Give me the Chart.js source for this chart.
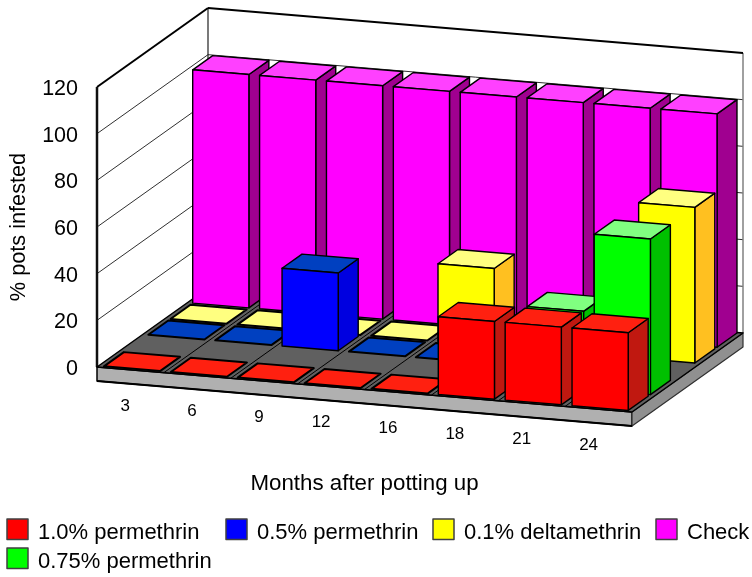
<!DOCTYPE html>
<html>
<head>
<meta charset="utf-8">
<title>Pots infested</title>
<script src="https://cdn.jsdelivr.net/npm/chart.js@4/dist/chart.umd.min.js"></script>
<style>
  html, body { margin: 0; padding: 0; background: #fff; }
  canvas { display: block; }
</style>
</head>
<body>
<canvas id="chart" width="752" height="577"></canvas>
<script>
// Data, front row first. null = no bar at all (bare floor)
const months = ['3', '6', '9', '12', '16', '18', '21', '24'];
const permethrin10 = [0, 0, 0, 0, 0, 33.3, 33.3, 33.3];
const permethrin075 = [null, null, null, null, null, null, 33.3, 66.7];
const permethrin05 = [0, 0, 33.3, 0, 0, 0, 0, null];
const deltamethrin01 = [0, 0, 0, 0, 33.3, 0, 0, 66.7];
const check = [100, 100, 100, 100, 100, 100, 100, 100];
const yTicksMax = 120;

const FONT = '"Liberation Sans", Arial, sans-serif';

// Oblique projection of the 3D box
const DEPTH_X = 111;   // px the floor runs right going front to back
const DEPTH_Y = 79;    // px it runs up
const SHEAR_Y = 45;    // px the front edge drops from left to right
const BAR_GAP = 0.08;
const BAR_WIDTH = 0.84;
const ROW_GAP = 0.07;
const ROW_DEPTH = 0.9;

const series = [
  { label: '1.0% permethrin', data: permethrin10, front: '#ff0000', top: '#ff2010', side: '#c01810' },
  { label: '0.75% permethrin', data: permethrin075, front: '#00ff00', top: '#80ff80', side: '#00c000' },
  { label: '0.5% permethrin', data: permethrin05, front: '#0000ff', top: '#0040c0', side: '#0000e0' },
  { label: '0.1% deltamethrin', data: deltamethrin01, front: '#ffff00', top: '#ffff80', side: '#ffc020' },
  { label: 'Check', data: check, front: '#ff00ff', top: '#ff40ff', side: '#a00090' }
];

// Legend reads in a different order than the rows
const legendSlots = [
  { row: 0, x: 7, y: 519 },
  { row: 2, x: 226, y: 519 },
  { row: 3, x: 433, y: 519 },
  { row: 4, x: 656, y: 519 },
  { row: 1, x: 7, y: 548 }
];

function project(chart, u, v, z) {
  const xs = chart.scales.x;
  const ys = chart.scales.y;
  const rows = series.length;
  return [
    xs.left + (u / months.length) * xs.width + (v / rows) * DEPTH_X,
    ys.getPixelForValue(z) + (u / months.length) * SHEAR_Y - (v / rows) * DEPTH_Y
  ];
}

function polygon(ctx, points, fill, stroke, lineWidth) {
  ctx.beginPath();
  points.forEach((p, i) => (i ? ctx.lineTo(p[0], p[1]) : ctx.moveTo(p[0], p[1])));
  ctx.closePath();
  if (fill) {
    ctx.fillStyle = fill;
    ctx.fill();
  }
  if (stroke) {
    ctx.strokeStyle = stroke;
    ctx.lineWidth = lineWidth;
    ctx.stroke();
  }
}

function line(ctx, a, b, stroke, lineWidth) {
  ctx.beginPath();
  ctx.moveTo(a[0], a[1]);
  ctx.lineTo(b[0], b[1]);
  ctx.strokeStyle = stroke;
  ctx.lineWidth = lineWidth;
  ctx.stroke();
}

function drawWalls(chart, ctx) {
  const n = months.length;
  const rows = series.length;
  const p = (u, v, z) => project(chart, u, v, z);

  polygon(ctx, [p(0, 0, 0), p(0, rows, 0), p(n, rows, 0), p(n, rows, yTicksMax), p(0, rows, yTicksMax), p(0, 0, yTicksMax)], '#ffffff');

  chart.scales.y.ticks.forEach((tick) => {
    if (tick.value === 0 || tick.value === yTicksMax) return;
    line(ctx, p(0, 0, tick.value), p(0, rows, tick.value), '#303030', 1);
    line(ctx, p(0, rows, tick.value), p(n, rows, tick.value), '#303030', 1);
  });

  line(ctx, p(0, rows, 0), p(0, rows, yTicksMax), '#202020', 1.2);
  line(ctx, p(n, rows, 0), p(n, rows, yTicksMax), '#808080', 1.5);
  line(ctx, p(0, 0, yTicksMax), p(0, rows, yTicksMax), '#000000', 2);
  line(ctx, p(0, rows, yTicksMax), p(n, rows, yTicksMax), '#000000', 2);
  line(ctx, p(0, 0, 0), p(0, 0, yTicksMax), '#101010', 2.5);
}

function drawFloor(chart, ctx) {
  const n = months.length;
  const rows = series.length;
  const p = (u, v, z) => project(chart, u, v, z);
  const slab = 6;   // slab thickness in value units

  polygon(ctx, [p(0, 0, 0), p(n, 0, 0), p(n, 0, -slab), p(0, 0, -slab)], '#b0b0b0', '#000000', 1.5);
  polygon(ctx, [p(n, 0, 0), p(n, rows, 0), p(n, rows, -slab), p(n, 0, -slab)], '#909090', '#303030', 1.2);
  polygon(ctx, [p(0, 0, 0), p(n, 0, 0), p(n, rows, 0), p(0, rows, 0)], '#606060', '#000000', 1.5);
  line(ctx, p(0, 0, -slab), p(n, 0, -slab), '#000000', 2.2);

  for (let i = 1; i < n; i++) {
    line(ctx, p(i, 0, 0), p(i, rows, 0), '#000000', 1);
  }
}

function drawBar(chart, ctx, row, col, value, style) {
  const u0 = col + BAR_GAP;
  const u1 = u0 + BAR_WIDTH;
  const v0 = row + ROW_GAP;
  const v1 = v0 + ROW_DEPTH;
  const p = (u, v, z) => project(chart, u, v, z);

  if (value === 0) {
    polygon(ctx, [p(u0, v0, 0), p(u1, v0, 0), p(u1, v1, 0), p(u0, v1, 0)], style.top, '#000000', 2);
    return;
  }
  polygon(ctx, [p(u1, v0, 0), p(u1, v1, 0), p(u1, v1, value), p(u1, v0, value)], style.side, '#000000', 1.4);
  polygon(ctx, [p(u0, v0, value), p(u1, v0, value), p(u1, v1, value), p(u0, v1, value)], style.top, '#000000', 1.4);
  polygon(ctx, [p(u0, v0, 0), p(u1, v0, 0), p(u1, v0, value), p(u0, v0, value)], style.front, '#000000', 1.4);
}

// Labels hang under the slab and line up on their right edge
function drawMonthLabels(chart, ctx) {
  ctx.font = '17px ' + FONT;
  ctx.fillStyle = '#000000';
  ctx.textAlign = 'right';
  ctx.textBaseline = 'middle';
  months.forEach((label, i) => {
    const at = project(chart, i + 0.5, 0, 0);
    ctx.fillText(label, at[0] - 0.5, at[1] + 36);
  });
}

function drawLegend(ctx) {
  ctx.font = '22px ' + FONT;
  ctx.textAlign = 'left';
  ctx.textBaseline = 'middle';
  legendSlots.forEach((slot) => {
    const style = series[slot.row];
    ctx.fillStyle = style.front;
    ctx.fillRect(slot.x, slot.y, 21, 20.5);
    ctx.strokeStyle = '#404040';
    ctx.lineWidth = 1.5;
    ctx.strokeRect(slot.x, slot.y, 21, 20.5);
    ctx.fillStyle = '#000000';
    ctx.fillText(style.label, slot.x + 31, slot.y + 13.5);
  });
}

const box3d = {
  id: 'box3d',
  // The marks are boxes, so the flat bars are replaced here
  beforeDatasetsDraw(chart) {
    const ctx = chart.ctx;
    ctx.save();
    ctx.lineJoin = 'round';
    drawWalls(chart, ctx);
    drawFloor(chart, ctx);
    for (let row = series.length - 1; row >= 0; row--) {
      chart.data.datasets[row].data.forEach((value, col) => {
        if (value !== null) {
          drawBar(chart, ctx, row, col, value, series[row]);
        }
      });
    }
    drawMonthLabels(chart, ctx);
    drawLegend(ctx);
    ctx.restore();
    return false;
  }
};

new Chart(document.getElementById('chart'), {
  type: 'bar',
  data: {
    labels: months,
    datasets: series.map((s) => ({ label: s.label, data: s.data, backgroundColor: s.front }))
  },
  plugins: [box3d],
  options: {
    responsive: false,
    animation: false,
    layout: { autoPadding: false, padding: { top: 87, right: 120, bottom: 80, left: 0 } },
    plugins: { legend: { display: false }, tooltip: { enabled: false } },
    scales: {
      x: {
        grid: { display: false },
        border: { display: false },
        ticks: { display: false },
        title: {
          display: true,
          text: 'Months after potting up',
          color: '#000000',
          font: { family: FONT, size: 22.3 },
          padding: { top: 105, bottom: 0 }
        },
        afterFit(scale) { scale.height = 130; }
      },
      y: {
        min: 0,
        max: yTicksMax,
        grid: { display: false, drawTicks: false },
        border: { display: false },
        ticks: {
          stepSize: 20,
          color: '#000000',
          padding: 19,
          labelOffset: 2,
          font: { family: FONT, size: 21.5 }
        },
        title: {
          display: true,
          text: '% pots infested',
          color: '#000000',
          font: { family: FONT, size: 21.7 },
          padding: { top: 6, bottom: 0 }
        },
        afterFit(scale) { scale.width = 97; }
      }
    }
  }
});
</script>
</body>
</html>
